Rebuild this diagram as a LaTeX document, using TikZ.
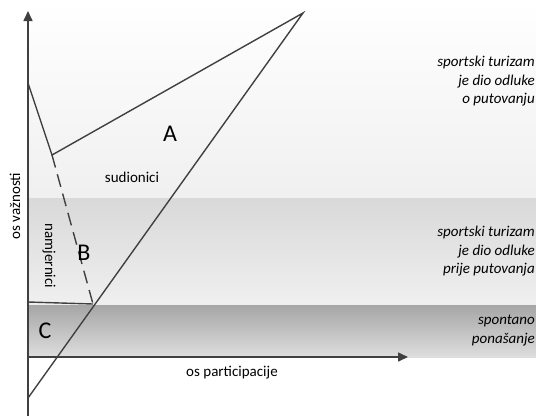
\documentclass[tikz,border=0pt]{standalone}
\usepackage{fontspec}
\setmainfont{Carlito}
\usetikzlibrary{arrows.meta}
\definecolor{ln}{HTML}{404040}
\begin{document}
\begin{tikzpicture}[x=1pt,y=-1pt,
  lbl/.style={font=\fontsize{15}{18}\selectfont, text=black, inner sep=0pt},
  big/.style={font=\fontsize{24}{29}\selectfont, text=black, inner sep=0pt},
  side/.style={font=\fontsize{15}{18.5}\selectfont\itshape, align=right, anchor=east, inner sep=0pt},
  edge/.style={draw=ln, line width=1.4pt},
  axis/.style={draw=ln, line width=1.6pt, -{Triangle[length=10pt,width=9pt]}}]
\useasboundingbox (0,0) rectangle (536,416);
% bands
\shade[top color=white, bottom color=black!6] (28,0) rectangle (536,198);
\shade[top color=black!15, bottom color=black!6] (28,198) rectangle (536,305);
\shade[top color=black!35, bottom color=black!13] (28,305) rectangle (536,357);
% points
\coordinate (p1) at (28,83);
\coordinate (p2) at (52,155);
\coordinate (p3) at (303,13);
\coordinate (p4) at (28,398);
\coordinate (p5) at (93,304);
\coordinate (p6) at (28,302);
\coordinate (ox) at (28,357);
\coordinate (oxe) at (408,357);
\coordinate (oyb) at (28,416);
\coordinate (oye) at (28,11);
% lines
\draw[edge, line join=miter] (p1) -- (p2) -- (p3) -- (p4);
\draw[edge, dash pattern=on 13pt off 7pt] (p2) -- (p5);
\draw[edge] (p6) -- (p5);
% axes
\draw[axis] (ox) -- (oxe);
\draw[axis] (oyb) -- (oye);
% labels
\node[big] (A) at (170,134) {A};
\node[big] (B) at (84,253) {B};
\node[big] (C) at (45,331) {C};
\node[lbl] (sud) at (132,177) {sudionici};
\node[lbl, rotate=-90] (nam) at (49,256) {namjernici};
\node[lbl, rotate=90] (osv) at (15,206) {os važnosti};
\node[lbl] (osp) at (232,373) {os participacije};
\node[side] (t1) at (535,81.5) {sportski turizam\\je dio odluke\\o putovanju};
\node[side] (t2) at (535,251.5) {sportski turizam\\je dio odluke\\prije putovanja};
\node[side] (t3) at (535,330.5) {spontano\\ponašanje};
\end{tikzpicture}
\end{document}
